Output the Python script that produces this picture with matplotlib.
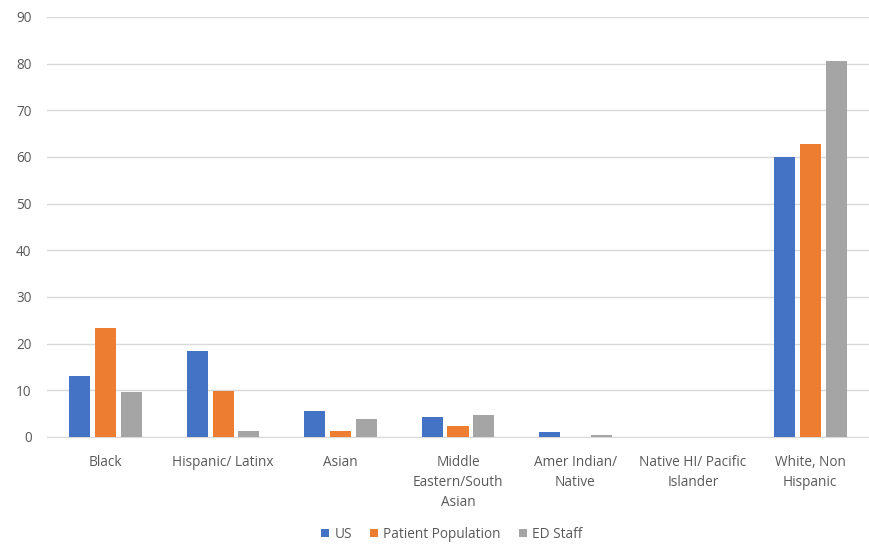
import matplotlib
matplotlib.use("Agg")
import matplotlib.pyplot as plt
import numpy as np

categories = ["Black", "Hispanic/ Latinx", "Asian", "Middle\nEastern/South\nAsian",
              "Amer Indian/\nNative", "Native HI/ Pacific\nIslander", "White, Non\nHispanic"]
series_names = ["US", "Patient Population", "ED Staff"]
us = [13.1, 18.3, 5.6, 4.3, 1.1, 0.0, 60.0]
patient = [23.4, 9.9, 1.3, 2.4, 0.0, 0.0, 62.8]
ed_staff = [9.6, 1.3, 3.8, 4.7, 0.3, 0.0, 80.6]
yticks = [0, 10, 20, 30, 40, 50, 60, 70, 80, 90]

colors = ["#4472C4", "#ED7D31", "#A5A5A5"]
text_color = "#595959"

plt.rcParams["font.family"] = ["Open Sans", "DejaVu Sans"]

fig = plt.figure(figsize=(8.69, 5.44), dpi=100)
ax = fig.add_axes([0.054, 0.197, 0.946, 0.772])

x = np.arange(len(categories))
width = 0.18
offset = 0.22
for i, (vals, name) in enumerate(zip([us, patient, ed_staff], series_names)):
    ax.bar(x + (i - 1) * offset, vals, width, color=colors[i], label=name, zorder=3)

ax.set_xlim(-0.5, len(categories) - 0.5)
ax.set_ylim(0, 90)
ax.set_yticks(yticks)
ax.yaxis.grid(True, color="#D9D9D9", linewidth=1, zorder=0)
ax.set_xticks(x)
ax.set_xticklabels(categories, fontsize=9.8, color=text_color, linespacing=1.45,
                   verticalalignment="top")
ax.tick_params(axis="y", labelsize=9.8, labelcolor=text_color, length=0, pad=11)
ax.tick_params(axis="x", length=0, pad=13)
for side in ["top", "right", "left"]:
    ax.spines[side].set_visible(False)
ax.spines["bottom"].set_color("#D9D9D9")

leg = fig.legend(loc="center", bbox_to_anchor=(0.52, 0.018), ncol=3, frameon=False,
                 fontsize=9.8, handlelength=0.6, handleheight=0.6, handletextpad=0.4,
                 columnspacing=1.3)
for t in leg.get_texts():
    t.set_color(text_color)

fig.savefig("out.png", dpi=100)
